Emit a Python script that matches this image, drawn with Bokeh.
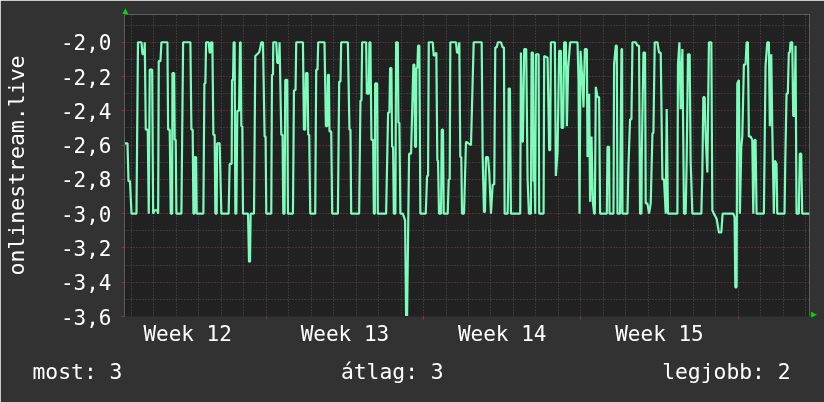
from bokeh.plotting import figure
from bokeh.models import Range1d, FixedTicker, CustomJSTickFormatter, Title
from bokeh.embed import file_html
from bokeh.resources import INLINE

# ---- data (time in days from the start of week 12, value = negated rank) ----
days = [0.711, 0.822, 0.867, 0.933, 1.000, 1.222, 1.289, 1.444, 1.489, 1.564, 1.591, 1.636, 1.724, 1.769,
        1.813, 1.920, 1.964, 2.022, 2.142, 2.187, 2.213, 2.289, 2.333, 2.600, 2.631, 2.702, 2.747, 2.809,
        2.822, 2.898, 2.924, 2.969, 3.000, 3.222, 3.298, 3.622, 3.667, 3.724, 3.756, 3.800, 3.813, 3.876,
        3.902, 4.200, 4.244, 4.289, 4.320, 4.436, 4.480, 4.511, 4.542, 4.600, 4.644, 4.702, 4.733, 4.791,
        4.809, 4.924, 5.000, 5.324, 5.369, 5.458, 5.476, 5.520, 5.547, 5.591, 5.622, 5.667, 5.711, 5.787,
        5.831, 5.858, 5.889, 5.933, 5.964, 6.187, 6.231, 6.276, 6.302, 6.453, 6.511, 6.676, 6.720, 6.778,
        6.853, 6.924, 6.969, 7.000, 7.222, 7.253, 7.298, 7.311, 7.444, 7.489, 7.564, 7.591, 7.667, 7.724,
        7.756, 7.813, 7.844, 7.933, 7.964, 8.187, 8.231, 8.302, 8.333, 8.631, 8.676, 8.733, 8.764, 8.836,
        8.867, 8.911, 8.956, 9.178, 9.222, 9.280, 9.311, 9.591, 9.653, 9.711, 9.742, 9.787, 9.813, 9.889,
        9.933, 10.187, 10.244, 10.302, 10.333, 10.631, 10.702, 10.747, 10.778, 11.133, 11.191, 11.236,
        11.267, 11.444, 11.476, 11.564, 11.591, 11.636, 11.680, 11.756, 11.787, 11.831, 11.844, 11.933,
        11.964, 12.333, 12.422, 12.480, 12.511, 12.569, 12.600, 12.644, 12.676, 12.747, 12.778, 12.853,
        12.880, 12.924, 12.969, 13.076, 13.133, 13.178, 13.222, 13.267, 13.356, 13.444, 13.547, 13.591,
        13.622, 13.667, 13.680, 13.724, 13.756, 13.813, 13.858, 14.098, 14.156, 14.200, 14.231, 14.409,
        14.453, 14.569, 14.613, 14.644, 14.689, 14.778, 14.809, 14.867, 14.898, 15.076, 15.120, 15.164,
        15.191, 15.444, 15.489, 15.547, 15.591, 15.636, 15.680, 15.711, 15.800, 15.889, 16.111, 16.231,
        16.587, 16.631, 16.689, 16.733, 16.778, 16.867, 16.924, 17.000, 17.076, 17.147, 17.191, 17.253,
        17.311, 17.444, 17.520, 17.578, 17.609, 17.742, 17.769, 17.787, 17.844, 17.889, 18.302, 18.333,
        18.391, 18.422, 18.480, 18.569, 18.631, 18.689, 18.778, 18.809, 18.867, 18.898, 18.942, 18.969,
        19.000, 19.120, 19.147, 19.342, 19.369, 19.520, 19.591, 19.636, 19.667, 19.844, 19.889, 19.964,
        20.036, 20.111, 20.142, 20.213, 20.258, 20.333, 20.378, 20.436, 20.524, 20.853, 20.898, 20.942,
        20.987, 21.076, 21.120, 21.178, 21.267, 21.298, 21.369, 21.413, 21.476, 21.533, 21.591, 21.622,
        21.667, 21.742, 21.813, 21.858, 22.156, 22.187, 22.258, 22.276, 22.453, 22.480, 22.556, 22.600,
        22.631, 22.747, 22.764, 22.809, 22.836, 22.853, 23.076, 23.120, 23.191, 23.253, 23.298, 23.444,
        23.520, 23.591, 23.636, 23.698, 23.711, 23.787, 23.858, 23.889, 23.964, 24.036, 24.111, 24.187,
        24.231, 24.289, 24.409, 24.480, 24.556, 24.631, 24.702, 24.778, 24.822, 24.880, 25.298, 25.324,
        25.387, 25.444, 25.520, 25.591, 25.667, 25.711, 25.769, 25.844, 25.889, 25.964, 26.364, 26.409,
        26.453, 26.511, 26.556, 26.631, 26.702, 26.809, 26.853, 26.924, 27.044, 27.147, 27.253, 27.311,
        27.787, 27.844, 27.876, 27.933, 27.964, 28.036, 28.080, 28.142, 28.187, 28.258, 28.333, 28.378,
        28.436, 28.480, 28.556, 28.631, 28.676, 28.733, 28.778, 28.822, 29.147, 29.222, 29.298, 29.369,
        29.413, 29.476, 29.520, 29.591, 29.636, 29.711, 29.742, 30.067, 30.098, 30.156, 30.213, 30.258,
        30.302, 30.333, 30.409, 30.453, 30.511, 30.556, 30.600, 30.702, 30.747, 30.809, 30.853, 31.178]

rank = [-2.59, -2.59, -2.81, -2.81, -3.00, -3.00, -2.00, -2.00, -2.07, -2.07, -2.00, -2.51, -2.51, -3.00,
        -2.16, -2.16, -3.00, -2.98, -2.98, -3.00, -2.11, -2.11, -2.00, -2.00, -2.51, -2.51, -3.00, -3.00,
        -2.18, -2.18, -2.57, -2.57, -3.00, -3.00, -2.00, -2.00, -2.51, -2.51, -3.00, -3.00, -2.67, -2.67,
        -3.00, -3.00, -2.24, -2.24, -2.00, -2.00, -2.06, -2.06, -2.00, -2.00, -2.54, -2.54, -3.00, -3.00,
        -2.59, -2.59, -3.00, -3.00, -2.71, -2.71, -2.22, -2.22, -2.00, -2.00, -3.00, -3.00, -2.40, -2.40,
        -2.00, -2.00, -2.49, -2.49, -3.00, -3.00, -3.28, -3.28, -3.00, -3.00, -2.08, -2.06, -2.04, -2.00,
        -2.00, -2.55, -2.55, -3.00, -3.00, -2.19, -2.19, -2.00, -2.00, -2.12, -2.12, -2.00, -2.54, -2.54,
        -3.00, -3.00, -2.22, -2.22, -3.00, -3.00, -2.28, -2.28, -2.00, -2.00, -2.51, -2.51, -2.18, -2.18,
        -2.54, -2.54, -3.00, -3.00, -2.16, -2.16, -2.00, -2.00, -2.49, -2.49, -2.19, -2.19, -2.52, -2.52,
        -3.00, -3.00, -2.23, -2.23, -2.00, -2.00, -2.51, -2.51, -3.00, -3.00, -2.34, -2.34,
        -2.00, -2.00, -2.30, -2.30, -2.00, -2.00, -2.57, -2.57, -3.00, -3.00, -2.24, -2.24,
        -3.00, -3.00, -2.41, -2.41, -2.15, -2.15, -2.61, -2.61, -3.00, -3.00, -2.00, -2.00,
        -2.47, -2.47, -3.00, -3.00, -3.02, -3.04, -3.60, -3.60, -2.65, -2.65, -2.13, -2.13,
        -2.61, -2.61, -2.15, -2.15, -2.02, -2.02, -3.00, -3.00, -2.78, -2.78, -2.00, -2.00,
        -2.08, -2.06, -2.69, -2.69, -3.00, -3.00, -2.51, -2.51, -3.00, -3.00, -2.80, -2.80,
        -2.00, -2.00, -2.06, -2.06, -2.00, -2.67, -2.67, -3.00, -3.00, -2.58, -2.60, -2.00,
        -2.00, -2.67, -2.99, -2.99, -2.67, -2.67, -2.76, -3.00, -2.83, -2.83, -2.03, -2.03,
        -2.00, -2.00, -2.03, -2.03, -3.00, -3.00, -2.80, -2.27, -2.27, -3.00, -3.00, -2.06,
        -2.58, -2.58, -2.04, -2.04, -2.80, -3.00, -3.00, -2.06, -2.06, -2.81, -2.81, -3.00,
        -2.07, -2.07, -3.00, -3.00, -2.08, -2.09, -2.63, -2.63, -2.00, -2.00, -2.78, -2.64,
        -2.05, -2.05, -2.50, -2.50, -2.00, -2.00, -2.49, -2.15, -2.00, -2.00, -2.23, -3.00,
        -2.05, -2.24, -2.38, -2.04, -2.04, -2.67, -2.30, -2.93, -2.55, -2.93, -3.00, -3.00,
        -2.26, -2.32, -2.32, -3.00, -3.00, -2.61, -2.61, -3.00, -3.00, -2.13, -2.02, -2.02,
        -3.00, -3.00, -2.71, -2.04, -2.04, -3.00, -3.00, -2.72, -2.45, -2.45, -2.00, -2.00,
        -2.02, -2.02, -3.00, -3.00, -2.68, -2.06, -2.06, -2.94, -2.94, -3.00, -2.94, -2.53,
        -2.53, -2.00, -2.00, -2.06, -2.06, -2.80, -2.80, -3.00, -2.39, -3.00, -3.00, -2.13,
        -2.00, -2.39, -2.04, -3.00, -3.00, -2.69, -2.07, -2.07, -2.70, -3.00, -3.00, -2.76,
        -2.32, -2.32, -2.55, -2.76, -2.00, -2.00, -2.98, -3.00, -3.03, -3.11, -3.11, -3.00,
        -3.00, -3.02, -3.43, -3.43, -2.24, -2.22, -3.00, -2.61, -2.55, -2.13, -2.13, -2.00,
        -2.00, -2.55, -2.55, -2.57, -3.00, -2.57, -2.57, -3.00, -3.00, -2.14, -2.00, -2.00,
        -2.49, -2.07, -2.49, -3.00, -2.69, -2.71, -3.00, -3.00, -2.71, -2.30, -2.30, -2.06,
        -2.06, -2.00, -2.00, -2.43, -2.43, -2.02, -3.00, -3.00, -2.65, -2.65, -3.00, -3.00]

y_ticks = [-3.6, -3.4, -3.2, -3.0, -2.8, -2.6, -2.4, -2.2, -2.0]
y_tick_labels = ["-3,6", "-3,4", "-3,2", "-3,0", "-2,8", "-2,6", "-2,4", "-2,2", "-2,0"]
y_minor = [-3.5, -3.3, -3.1, -2.9, -2.7, -2.5, -2.3, -2.1, -1.9]
week_centers = [3.5, 10.5, 17.5, 24.5]
week_labels = ["Week 12", "Week 13", "Week 14", "Week 15"]
week_starts = [7, 14, 21, 28]
day_lines = list(range(1, 32))
legend_texts = ["most: 3", "átlag: 3", "legjobb: 2"]
y_title = "onlinestream.live"

BG = "#323232"
CANVAS = "#212121"
GRID = "#555555"
MGRID = "#843c3c"
LINE = "#7dfcbc"
ARROW = "#00dd00"
FONT = "DejaVu Sans Mono"
NB = "\u00a0"

p = figure(width=824, height=402, output_backend="svg", toolbar_location=None,
           x_range=Range1d(0.689, 31.178), y_range=Range1d(-3.6, -1.838),
           min_border_left=123, min_border_right=15, min_border_top=14, min_border_bottom=86)
p.styles = {"position": "fixed", "left": "0px", "top": "0px"}
p.background_fill_color = CANVAS
p.border_fill_color = BG
p.outline_line_color = None

# grids
p.xgrid.ticker = FixedTicker(ticks=day_lines)
p.xgrid.grid_line_color = GRID
p.xgrid.grid_line_dash = "1 2"
p.ygrid.ticker = FixedTicker(ticks=y_ticks, minor_ticks=y_minor)
p.ygrid.grid_line_color = MGRID
p.ygrid.grid_line_dash = "1 2"
p.ygrid.minor_grid_line_color = GRID
p.ygrid.minor_grid_line_dash = "1 2"

# y axis
p.yaxis.ticker = FixedTicker(ticks=y_ticks, minor_ticks=y_minor)
p.yaxis.formatter = CustomJSTickFormatter(code="return tick.toFixed(1).replace('.', ',')")
p.yaxis.major_label_overrides = dict(zip(y_ticks, y_tick_labels))
p.yaxis.major_label_text_font = FONT
p.yaxis.major_label_text_font_size = "21px"
p.yaxis.major_label_text_color = "#ffffff"
p.yaxis.axis_line_color = None
p.yaxis.major_tick_line_color = MGRID
p.yaxis.major_tick_out = 3
p.yaxis.major_tick_in = 0
p.yaxis.minor_tick_line_color = None
p.yaxis.minor_tick_out = 0
p.yaxis.minor_tick_in = 0
p.yaxis.major_label_standoff = 10
p.yaxis.axis_label = y_title
p.yaxis.axis_label_text_font = FONT
p.yaxis.axis_label_text_font_size = "21.5px"
p.yaxis.axis_label_text_font_style = "normal"
p.yaxis.axis_label_text_color = "#ffffff"
p.yaxis.axis_label_standoff = 29

# x axis
p.xaxis.ticker = FixedTicker(ticks=week_centers, minor_ticks=week_starts)
p.xaxis.major_label_overrides = dict(zip(week_centers, week_labels))
p.xaxis.major_label_text_font = FONT
p.xaxis.major_label_text_font_size = "21px"
p.xaxis.major_label_text_color = "#ffffff"
p.xaxis.axis_line_color = "#2a2a2a"
p.xaxis.major_tick_line_color = None
p.xaxis.major_tick_out = 0
p.xaxis.major_tick_in = 0
p.xaxis.minor_tick_line_color = MGRID
p.xaxis.minor_tick_out = 3
p.xaxis.minor_tick_in = 0
p.xaxis.major_label_standoff = 2

# series
p.line(days, rank, line_color=LINE, line_width=2.2)

# legend line at the bottom (monospaced, fixed gaps)
legend_line = (legend_texts[0] + NB * 17 + legend_texts[1] + NB * 17 + legend_texts[2])
p.add_layout(Title(text=legend_line, align="left", offset=-92, standoff=16, text_font=FONT,
                   text_font_size="21.35px", text_font_style="normal", text_color="#ffffff"), "below")

# axis arrows
p.add_layout(Title(text="\u25b2", align="left", offset=-2, standoff=0, text_font="DejaVu Sans",
                   text_font_size="7.5px", text_font_style="normal", text_color=ARROW), "above")
p.add_layout(Title(text="\u25b2", align="right", offset=-1, standoff=0, text_font="DejaVu Sans",
                   text_font_size="7.5px", text_font_style="normal", text_color=ARROW), "right")

open("out.html", "w").write(file_html(p, INLINE))
